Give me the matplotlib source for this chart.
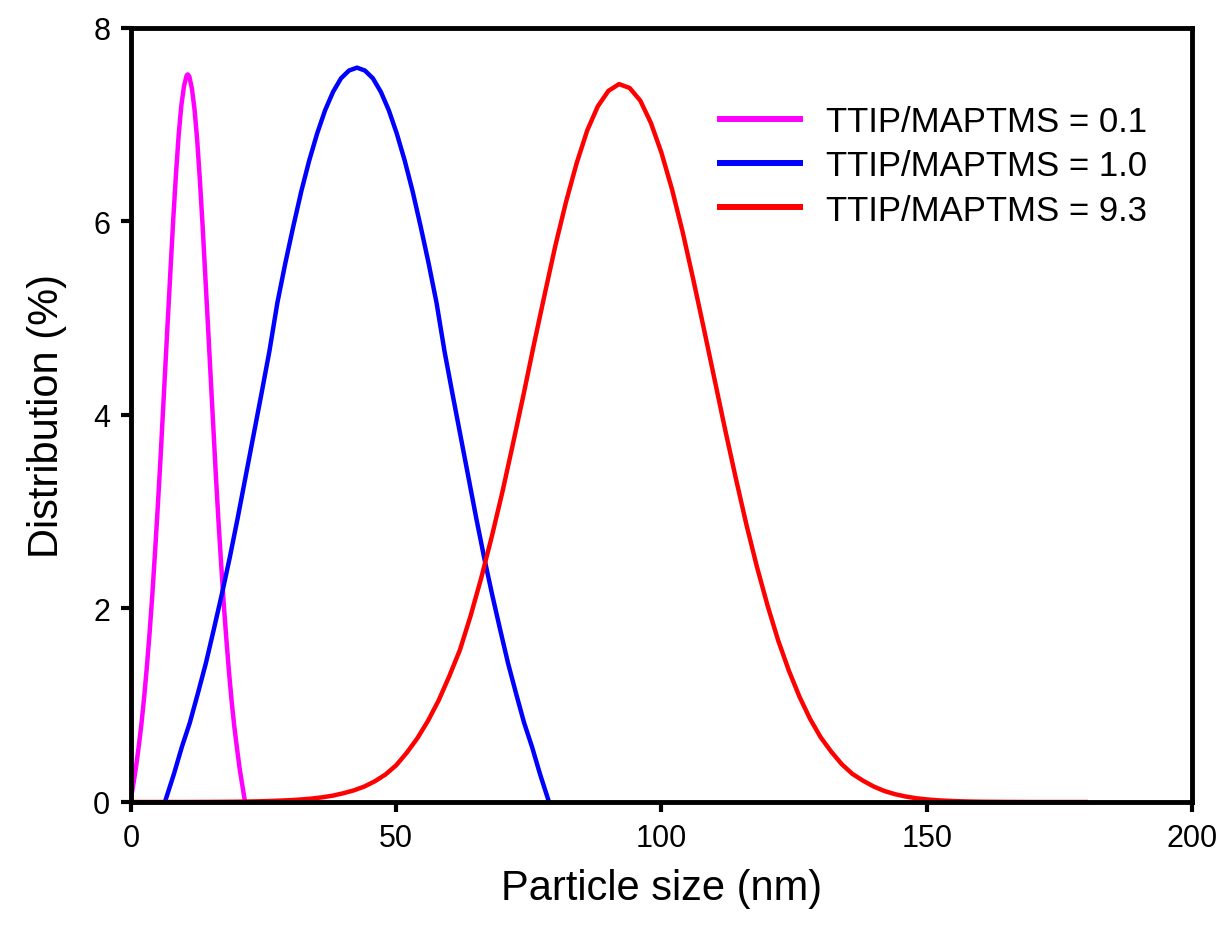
import matplotlib
matplotlib.use("Agg")
import matplotlib.pyplot as plt

plt.rcParams['font.family'] = ['Liberation Sans', 'DejaVu Sans']

# --- data ---
labels = ["TTIP/MAPTMS = 0.1", "TTIP/MAPTMS = 1.0", "TTIP/MAPTMS = 9.3"]
colors = ["#ff00ff", "#0000ff", "#ff0000"]

x_01 = [0, 0.5, 1.0, 1.5, 2.0, 2.5, 3.0, 3.5, 4.0, 4.5, 5.0, 5.5, 6.0, 6.5, 7.0, 7.5, 8.0, 8.5, 9.0,
        9.5, 10.0, 10.5, 10.7, 11.0, 11.5, 12.0, 12.5, 13.0, 13.5, 14.0, 14.5, 15.0, 15.5, 16.0, 16.5,
        17.0, 17.5, 18.0, 18.5, 19.0, 19.5, 20.0, 20.5, 21.0, 21.5]
y_01 = [0.04, 0.20, 0.38, 0.59, 0.82, 1.09, 1.40, 1.74, 2.12, 2.55, 3.00, 3.48, 4.00, 4.52, 5.04, 5.55,
        6.05, 6.50, 6.90, 7.20, 7.40, 7.51, 7.52, 7.50, 7.37, 7.15, 6.83, 6.42, 5.96, 5.45, 4.94, 4.42,
        3.90, 3.38, 2.90, 2.46, 2.04, 1.67, 1.33, 1.03, 0.77, 0.55, 0.34, 0.17, 0.0]

x_10 = [6.4, 8.1, 9.6, 11.1, 12.6, 14.1, 15.6, 17.1, 18.6, 20.1, 21.6, 23.1, 24.6, 26.1, 27.6, 29.1,
        30.6, 32.1, 33.6, 35.1, 36.6, 38.1, 39.6, 41.1, 42.6, 44.1, 45.6, 47.1, 48.6, 50.1, 51.6, 53.1,
        54.6, 56.1, 57.6, 59.1, 60.6, 62.1, 63.6, 65.1, 66.6, 68.1, 69.6, 71.1, 72.6, 74.1, 75.6, 77.1,
        78.8]
y_10 = [0.0, 0.29, 0.57, 0.82, 1.12, 1.43, 1.78, 2.14, 2.52, 2.93, 3.36, 3.79, 4.22, 4.66, 5.16, 5.57,
        5.95, 6.31, 6.63, 6.91, 7.15, 7.34, 7.48, 7.56, 7.59, 7.56, 7.48, 7.34, 7.15, 6.91, 6.63, 6.31,
        5.95, 5.57, 5.16, 4.66, 4.22, 3.79, 3.36, 2.93, 2.52, 2.14, 1.78, 1.43, 1.12, 0.82, 0.57, 0.29,
        0.0]

x_93 = [0, 5, 10, 15, 20, 22, 24, 26, 28, 30, 32, 34, 36, 38, 40, 42, 44, 46, 48, 50, 52, 54, 56, 58,
        60, 62, 64, 66, 68, 70, 72, 74, 76, 78, 80, 82, 84, 86, 88, 90, 92, 94, 96, 98, 100, 102, 104,
        106, 108, 110, 112, 114, 116, 118, 120, 122, 124, 126, 128, 130, 132, 134, 136, 138, 140, 142,
        144, 146, 148, 150, 152, 154, 156, 158, 160, 165, 170, 175, 180]
y_93 = [0.0, 0.0, 0.0, 0.001, 0.003, 0.005, 0.007, 0.010, 0.014, 0.019, 0.026, 0.035, 0.048, 0.065,
        0.09, 0.12, 0.16, 0.215, 0.285, 0.38, 0.51, 0.66, 0.84, 1.05, 1.30, 1.57, 1.92, 2.31, 2.74, 3.20,
        3.70, 4.21, 4.74, 5.25, 5.75, 6.20, 6.60, 6.94, 7.19, 7.35, 7.42, 7.38, 7.25, 7.02, 6.71, 6.33,
        5.89, 5.40, 4.89, 4.37, 3.85, 3.35, 2.87, 2.43, 2.03, 1.67, 1.36, 1.09, 0.86, 0.67, 0.52, 0.39,
        0.29, 0.22, 0.16, 0.114, 0.081, 0.057, 0.039, 0.027, 0.018, 0.012, 0.008, 0.005, 0.003, 0.001,
        0.0, 0.0, 0.0]

x_ticks = [0, 50, 100, 150, 200]
y_ticks = [0, 2, 4, 6, 8]

fig = plt.figure(figsize=(12.32, 9.53), dpi=100)
ax = fig.add_axes([0.1063, 0.1574, 0.9675 - 0.1063, 0.9696 - 0.1574])

series = [(x_01, y_01), (x_10, y_10), (x_93, y_93)]
for (xs, ys), lab, col in zip(series, labels, colors):
    ax.plot(xs, ys, color=col, lw=3.2, label=lab, solid_joinstyle='round')

ax.set_xlim(0, 200)
ax.set_ylim(0, 8)
ax.set_xticks(x_ticks)
ax.set_yticks(y_ticks)
ax.tick_params(axis='both', direction='out', length=7, width=3, labelsize=22, pad=8)
for sp in ax.spines.values():
    sp.set_linewidth(3.5)
    sp.set_color('black')

ax.set_xlabel("Particle size (nm)", fontsize=30, labelpad=11)
ax.set_ylabel("Distribution (%)", fontsize=30, labelpad=19)

leg = ax.legend(loc='upper left', bbox_to_anchor=(0.555, 0.90), frameon=False, fontsize=25,
                handlelength=2.3, handletextpad=0.75, labelspacing=0.32, borderpad=0, borderaxespad=0)
for h in leg.get_lines():
    h.set_linewidth(4.3)

fig.savefig("out.png", dpi=100, facecolor='white')
